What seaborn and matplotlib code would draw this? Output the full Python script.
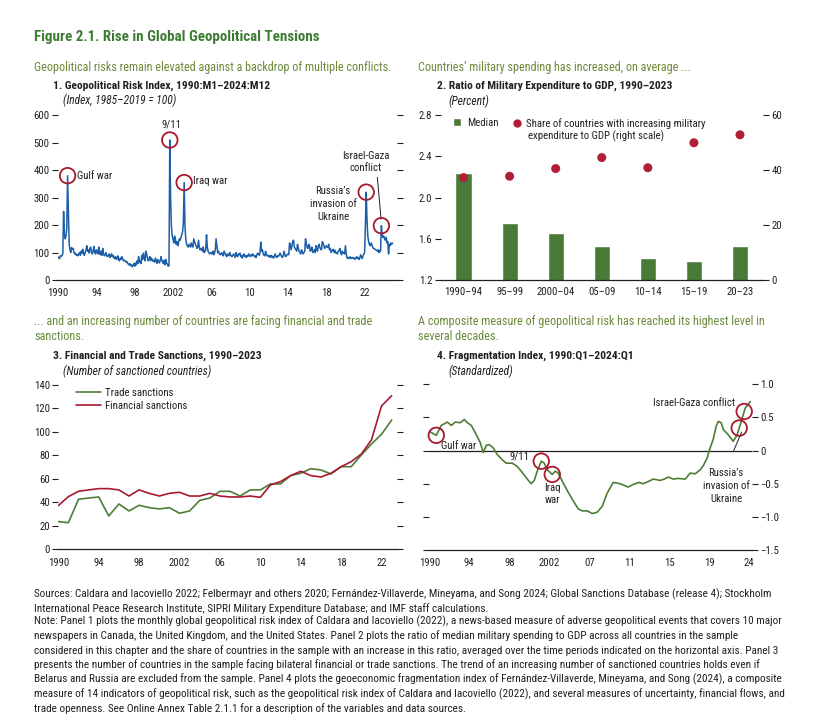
import numpy as np
import pandas as pd
import seaborn as sns
import matplotlib.pyplot as plt
from matplotlib import font_manager
from matplotlib.lines import Line2D
from matplotlib.patches import Patch

# ---- panel 1: geopolitical risk index, monthly 1990:M1-2024:M12
gpr_values = [
    85, 80, 78, 88, 86, 90, 95, 250, 165, 150, 160, 190,      # 1990
    380, 250, 130, 110, 100, 118, 112, 115, 100, 95, 98, 90,  # 1991
    92, 88, 95, 100, 90, 105, 98, 112, 95, 90, 100, 108,      # 1992
    125, 105, 110, 98, 115, 120, 100, 95, 105, 122, 100, 95,  # 1993
    110, 100, 95, 120, 98, 92, 105, 90, 115, 95, 88, 92,      # 1994
    100, 88, 85, 90, 95, 82, 88, 95, 85, 90, 80, 78,          # 1995
    85, 75, 80, 88, 72, 70, 80, 75, 85, 78, 70, 72,           # 1996
    70, 65, 68, 62, 58, 55, 60, 52, 55, 48, 55, 60,           # 1997
    50, 62, 55, 70, 60, 85, 65, 70, 60, 90, 75, 98,           # 1998
    80, 70, 105, 95, 80, 70, 75, 85, 70, 80, 75, 68,          # 1999
    72, 65, 80, 70, 60, 75, 68, 62, 70, 85, 72, 65,           # 2000
    60, 72, 55, 75, 62, 58, 50, 52, 510, 300, 200, 160,       # 2001
    150, 135, 160, 150, 130, 140, 125, 135, 150, 145, 155, 165,  # 2002
    175, 210, 355, 200, 150, 130, 125, 120, 130, 125, 120, 135,  # 2003
    125, 120, 150, 140, 130, 125, 115, 120, 145, 120, 110, 115,  # 2004
    110, 105, 120, 100, 105, 108, 165, 120, 105, 100, 95, 98,    # 2005
    100, 95, 105, 92, 98, 110, 150, 125, 100, 105, 95, 92,       # 2006
    95, 100, 92, 88, 105, 98, 90, 85, 95, 92, 88, 100,        # 2007
    92, 88, 85, 90, 95, 88, 82, 100, 90, 85, 95, 92,          # 2008
    98, 85, 88, 80, 92, 95, 85, 88, 82, 90, 86, 95,           # 2009
    90, 85, 92, 88, 95, 90, 85, 88, 82, 92, 98, 95,           # 2010
    90, 100, 138, 105, 110, 95, 90, 88, 105, 92, 88, 90,      # 2011
    85, 88, 82, 90, 84, 86, 80, 88, 95, 85, 82, 88,           # 2012
    86, 90, 98, 92, 85, 82, 88, 105, 95, 85, 88, 92,          # 2013
    95, 92, 135, 128, 110, 125, 140, 145, 120, 115, 110, 105,  # 2014
    130, 115, 105, 100, 95, 110, 100, 95, 100, 105, 150, 130,  # 2015
    120, 115, 130, 125, 105, 110, 120, 100, 105, 110, 100, 125,  # 2016
    110, 105, 125, 130, 118, 112, 110, 140, 135, 125, 115, 120,  # 2017
    125, 120, 118, 130, 110, 115, 100, 105, 110, 112, 100, 108,  # 2018
    98, 100, 95, 105, 108, 115, 100, 92, 105, 98, 100, 95,    # 2019
    125, 95, 80, 82, 78, 80, 85, 78, 80, 82, 78, 80,          # 2020
    75, 80, 85, 78, 82, 75, 80, 92, 85, 78, 88, 95,           # 2021
    100, 200, 320, 220, 160, 140, 130, 125, 135, 130, 120, 115,  # 2022
    115, 112, 110, 108, 105, 110, 100, 108, 105, 198, 165, 155,  # 2023
    160, 150, 145, 155, 135, 140, 95, 130, 125, 135, 130, 135,   # 2024
]
gpr_events = {'Gulf war': (1991, 1), '9/11': (2001, 9), 'Iraq war': (2003, 3),
              'Russia': (2022, 3), 'Israel-Gaza': (2023, 10)}

# ---- panel 2: military expenditure
periods = ['1990–94', '95–99', '2000–04', '05–09', '10–14', '15–19', '20–23']
median_ratio = [2.24, 1.75, 1.66, 1.53, 1.41, 1.38, 1.53]
share_increasing = [37.3, 37.8, 40.6, 44.6, 40.9, 50.0, 52.9]

# ---- panel 3: sanctions, annual
sanction_years = list(range(1990, 2024))
trade_sanctions = [23.6, 22.7, 42.6, 43.7, 44.6, 28.4, 38.6, 32.7, 37.5, 35.5,
                   34.4, 35.5, 30.7, 32.7, 41.7, 43.7, 49.4, 49.4, 45.4, 50.6,
                   50.6, 55.7, 55.7, 62.8, 64.8, 68.7, 67.6, 64.2, 70.4, 70.4,
                   80.4, 89.7, 98.0, 110.2]
financial_sanctions = [37.2, 44.9, 49.4, 50.6, 51.7, 51.7, 50.6, 45.4, 50.6, 47.7,
                       45.4, 47.7, 48.6, 45.4, 45.4, 47.7, 45.4, 44.6, 44.6, 45.4,
                       44.3, 54.8, 57.7, 62.8, 66.5, 62.8, 61.6, 64.8, 70.4, 74.7,
                       81.2, 93.2, 122.1, 130.9]

# ---- panel 4: fragmentation index (x in axis units, ticks every 4)
frag_x = [1990.0, 1990.7, 1991.2, 1991.8, 1992.2, 1992.6, 1993.1, 1993.5, 1993.8,
          1994.2, 1994.6, 1995.1, 1995.4, 1995.7, 1996.0, 1996.4, 1996.8, 1997.3,
          1997.7, 1998.3, 1998.8, 1999.3, 1999.8, 2000.2, 2000.5, 2000.8, 2001.2,
          2001.5, 2001.8, 2002.3, 2002.6, 2002.9, 2003.4, 2003.9, 2004.4, 2004.9,
          2005.3, 2005.8, 2006.3, 2006.8, 2007.3, 2007.8, 2008.4, 2009.1, 2009.9,
          2010.4, 2011.0, 2011.4, 2012.0, 2012.4, 2013.1, 2013.5, 2013.9, 2014.4,
          2014.9, 2015.6, 2016.1, 2016.6, 2017.1, 2017.4, 2017.8, 2018.0, 2018.4,
          2018.7, 2018.9, 2019.2, 2019.4, 2019.9, 2020.4, 2020.8, 2021.3, 2021.6,
          2022.1]
frag_values = [0.29, 0.23, 0.38, 0.43, 0.38, 0.43, 0.42, 0.47, 0.42, 0.38, 0.27,
               0.12, -0.03, 0.08, 0.09, 0.04, -0.06, -0.14, -0.19, -0.19, -0.24,
               -0.33, -0.43, -0.50, -0.45, -0.31, -0.16, -0.19, -0.29, -0.36,
               -0.31, -0.34, -0.49, -0.63, -0.76, -0.88, -0.91, -0.91, -0.95,
               -0.93, -0.84, -0.64, -0.48, -0.50, -0.55, -0.51, -0.48, -0.50,
               -0.46, -0.43, -0.45, -0.43, -0.40, -0.43, -0.42, -0.43, -0.34,
               -0.35, -0.29, -0.23, -0.11, 0.0, 0.17, 0.37, 0.44, 0.42, 0.32,
               0.24, 0.14, 0.24, 0.49, 0.64, 0.74]
frag_tick_labels = ['1990', '94', '98', '2002', '07', '11', '15', '19', '24']
frag_events = {'Gulf war': 1990.7, '9/11': 2001.2, 'Iraq war': 2002.3,
               'Russia': 2021.0, 'Israel-Gaza': 2021.5}

sources = [
    'Sources: Caldara and Iacoviello 2022; Felbermayr and others 2020; Fernández-Villaverde, Mineyama, and Song 2024; Global Sanctions Database (release 4); Stockholm',
    'International Peace Research Institute, SIPRI Military Expenditure Database; and IMF staff calculations.',
]
notes = [
    'Note: Panel 1 plots the monthly global geopolitical risk index of Caldara and Iacoviello (2022), a news-based measure of adverse geopolitical events that covers 10 major',
    'newspapers in Canada, the United Kingdom, and the United States. Panel 2 plots the ratio of median military spending to GDP across all countries in the sample',
    'considered in this chapter and the share of countries in the sample with an increase in this ratio, averaged over the time periods indicated on the horizontal axis. Panel 3',
    'presents the number of countries in the sample facing bilateral financial or trade sanctions. The trend of an increasing number of sanctioned countries holds even if',
    'Belarus and Russia are excluded from the sample. Panel 4 plots the geoeconomic fragmentation index of Fernández-Villaverde, Mineyama, and Song (2024), a composite',
    'measure of 14 indicators of geopolitical risk, such as the geopolitical risk index of Caldara and Iacoviello (2022), and several measures of uncertainty, financial flows, and',
    'trade openness. See Online Annex Table 2.1.1 for a description of the variables and data sources.',
]

TITLE_GREEN = '#3f7a35'
SUB_GREEN = '#6b8a3a'
BLUE = '#1d5ea8'
RED = '#a8192e'
GREEN = '#4e7d36'
INK = '#231f20'

sns.set_style('white')
installed = {f.name for f in font_manager.fontManager.ttflist}
narrow = 'DejaVu Sans'
for cand in ['Liberation Sans Narrow', 'Roboto Condensed', 'Noto Sans Condensed',
             'Open Sans Condensed', 'DejaVu Sans Condensed', 'Roboto']:
    if cand in installed:
        narrow = cand
        break
plt.rcParams['font.family'] = [narrow, 'DejaVu Sans']
plt.rcParams['text.color'] = INK
plt.rcParams['xtick.color'] = INK
plt.rcParams['ytick.color'] = INK

W, H = 816, 727
fig = plt.figure(figsize=(W / 100, H / 100), dpi=100)
renderer = fig.canvas.get_renderer()


def fit(s, target, **kw):
    # font size that makes string s about target pixels wide
    t = fig.text(0, 0, s, fontsize=10, **kw)
    w = t.get_window_extent(renderer).width
    t.remove()
    return 10 * target / w


FS_TITLE = fit('Figure 2.1. Rise in Global Geopolitical Tensions', 287, fontweight='bold')
FS_SUB = fit('Geopolitical risks remain elevated against a backdrop of multiple conflicts.', 354)
FS_PANEL = fit('1. Geopolitical Risk Index, 1990:M1–2024:M12', 217, fontweight='bold')
FS_UNIT = fit('(Index, 1985–2019 = 100)', 113, style='italic')
FS = fit('Share of countries with increasing military', 178)
FS_FOOT = fit(sources[0], 739)
plt.rcParams['legend.fontsize'] = FS
LS = 1.35


def box(x0, y0, x1, y1):
    # pixel box (left, top, right, bottom) -> figure fraction rect
    return [x0 / W, 1 - y1 / H, (x1 - x0) / W, (y1 - y0) / H]


def ftext(x, y, s, **kw):
    fig.text(x / W, 1 - y / H, s, va='center', **kw)


def style_axis(ax):
    for side in ['left', 'right', 'top']:
        ax.spines[side].set_visible(False)
    ax.spines['bottom'].set_color(INK)
    ax.spines['bottom'].set_linewidth(0.9)
    ax.tick_params(axis='both', which='both', direction='out', length=4,
                   width=0.8, labelsize=FS, pad=2)
    ax.set_xlabel('')
    ax.set_ylabel('')


def year_ticks(ax, start, stop):
    ticks = np.arange(start, stop, 2)
    labels = []
    for y in ticks:
        if (y - 1990) % 4:
            labels.append('')
        elif y in (1990, 2002):
            labels.append(str(y))
        else:
            labels.append(f'{y % 100:02d}')
    ax.set_xticks(ticks, labels)


def circle(ax, x, y):
    ax.scatter([x], [y], s=125, facecolors='none', edgecolors=RED,
               linewidths=1.3, zorder=5, clip_on=False)


# ---------------- headers
ftext(34, 37, 'Figure 2.1. Rise in Global Geopolitical Tensions',
      fontsize=FS_TITLE, fontweight='bold', color=TITLE_GREEN)
ftext(34, 68, 'Geopolitical risks remain elevated against a backdrop of multiple conflicts.',
      fontsize=FS_SUB, color=SUB_GREEN)
ftext(53, 86, '1. Geopolitical Risk Index, 1990:M1–2024:M12', fontsize=FS_PANEL, fontweight='bold')
ftext(63, 100, '(Index, 1985–2019 = 100)', fontsize=FS_UNIT, style='italic')
ftext(418, 68, 'Countries’ military spending has increased, on average ...',
      fontsize=FS_SUB, color=SUB_GREEN)
ftext(437, 86, '2. Ratio of Military Expenditure to GDP, 1990–2023', fontsize=FS_PANEL, fontweight='bold')
ftext(448, 101, '(Percent)', fontsize=FS_UNIT, style='italic')
ftext(34, 322, '... and an increasing number of countries are facing financial and trade',
      fontsize=FS_SUB, color=SUB_GREEN)
ftext(34, 336, 'sanctions.', fontsize=FS_SUB, color=SUB_GREEN)
ftext(53, 356, '3. Financial and Trade Sanctions, 1990–2023', fontsize=FS_PANEL, fontweight='bold')
ftext(63, 371, '(Number of sanctioned countries)', fontsize=FS_UNIT, style='italic')
ftext(418, 322, 'A composite measure of geopolitical risk has reached its highest level in',
      fontsize=FS_SUB, color=SUB_GREEN)
ftext(418, 336, 'several decades.', fontsize=FS_SUB, color=SUB_GREEN)
ftext(437, 356, '4. Fragmentation Index, 1990:Q1–2024:Q1', fontsize=FS_PANEL, fontweight='bold')
ftext(448, 371, '(Standardized)', fontsize=FS_UNIT, style='italic')

# ---------------- panel 1
ax1 = fig.add_axes(box(58, 115.3, 396.7, 280))
gpr_dates = 1990 + np.arange(len(gpr_values)) / 12
sns.lineplot(x=gpr_dates, y=gpr_values, ax=ax1, color=BLUE, linewidth=1.1)
ax1.set_xlim(1990, 2025.35)
ax1.set_ylim(0, 600)
ax1.set_yticks(range(0, 601, 100))
year_ticks(ax1, 1990, 2026)
style_axis(ax1)
ax1.tick_params(axis='y', left=True, right=True, labelleft=True, labelright=False)
for name, (yr, mo) in gpr_events.items():
    i = (yr - 1990) * 12 + mo - 1
    circle(ax1, gpr_dates[i], gpr_values[i])
ax1.text(1992.0, 379, 'Gulf war', fontsize=FS, va='center', ha='left')
ax1.text(2001.8, 565, '9/11', fontsize=FS, va='center', ha='center')
ax1.text(2004.1, 361, 'Iraq war', fontsize=FS, va='center', ha='left')
ax1.text(2022.15, 430, 'Israel-Gaza\nconflict', fontsize=FS, va='center', ha='center',
         linespacing=1.3)
ax1.text(2018.7, 277, 'Russia’s\ninvasion of\nUkraine', fontsize=FS, va='center',
         ha='center', linespacing=LS)
ax1.plot([2023.33, 2023.72], [374, 222], color=INK, linewidth=0.7)

# ---------------- panel 2
ax2 = fig.add_axes(box(440.5, 115.3, 763, 280))
sns.barplot(x=periods, y=median_ratio, ax=ax2, color='#4a7a37', width=0.35,
            saturation=1)
ax2.set_xlim(-0.5, 6.5)
ax2.set_ylim(1.2, 2.8)
ax2.set_yticks([1.2, 1.6, 2.0, 2.4, 2.8], ['1.2', '1.6', '2.0', '2.4', '2.8'])
style_axis(ax2)
ax2.set_xticks(np.arange(-0.5, 7, 1), minor=True)
ax2.tick_params(axis='x', which='major', length=0, pad=5)
ax2.tick_params(axis='y', right=False)
ax2r = ax2.twinx()
sns.scatterplot(x=np.arange(len(share_increasing)), y=share_increasing, ax=ax2r,
                color='#b01f35', s=42, edgecolor='none', legend=False)
ax2r.set_ylim(0, 60)
ax2r.set_yticks([0, 20, 40, 60])
style_axis(ax2r)
ax2r.spines['bottom'].set_visible(False)
ax2r.tick_params(axis='y', left=False, right=True, labelleft=False, labelright=True)
ax2.legend(handles=[Patch(facecolor='#4a7a37', label='Median')], loc='upper left',
           bbox_to_anchor=(0.04, 0.985), frameon=False, handlelength=0.75,
           handleheight=0.75, handletextpad=0.5, borderaxespad=0, borderpad=0)
ax2r.legend(handles=[Line2D([], [], marker='o', linestyle='none', color='#b01f35',
                            markersize=6.0, markeredgewidth=0,
                            label='Share of countries with increasing military')],
            loc='upper left', bbox_to_anchor=(0.225, 0.985), frameon=False,
            handlelength=0.8, handletextpad=0.4, borderaxespad=0, borderpad=0)
ax2r.text(0.271, 0.875, 'expenditure to GDP (right scale)', transform=ax2r.transAxes,
          fontsize=FS, va='center', ha='left')

# ---------------- panel 3
ax3 = fig.add_axes(box(58.3, 385, 396.7, 549.3))
sns.lineplot(x=sanction_years, y=trade_sanctions, ax=ax3, color=GREEN,
             linewidth=1.2, label='Trade sanctions')
sns.lineplot(x=sanction_years, y=financial_sanctions, ax=ax3, color=RED,
             linewidth=1.2, label='Financial sanctions')
ax3.set_xlim(1990, 2023.5)
ax3.set_ylim(0, 140)
ax3.set_yticks(range(0, 141, 20))
year_ticks(ax3, 1990, 2024)
style_axis(ax3)
ax3.tick_params(axis='y', left=True, right=True, labelleft=True, labelright=False)
ax3.legend(loc='upper left', bbox_to_anchor=(0.04, 1.01), frameon=False,
           handlelength=2.3, handletextpad=0.4, labelspacing=0.3, borderaxespad=0)

# ---------------- panel 4
ax4 = fig.add_axes(box(429.3, 384.3, 751.7, 550))
sns.lineplot(x=frag_x, y=frag_values, ax=ax4, color=GREEN, linewidth=1.2)
ax4.axhline(0, color=INK, linewidth=0.9, zorder=1)
ax4.set_xlim(1990, 2022.25)
ax4.set_ylim(-1.5, 1.0)
ax4.set_yticks([1.0, 0.5, 0, -0.5, -1.0, -1.5],
               ['1.0', '0.5', '0', '−0.5', '−1.0', '−1.5'])
ax4.set_xticks(np.arange(1990, 2023, 4), frag_tick_labels)
style_axis(ax4)
ax4.tick_params(axis='y', left=True, right=True, labelleft=False, labelright=True)
for name, x in frag_events.items():
    circle(ax4, x, np.interp(x, frag_x, frag_values))
ax4.text(1991.2, 0.075, 'Gulf war', fontsize=FS, va='center', ha='left')
ax4.text(1999.0, -0.09, '9/11', fontsize=FS, va='center', ha='center')
ax4.text(2002.3, -0.66, 'Iraq\nwar', fontsize=FS, va='center', ha='center',
         linespacing=1.25)
ax4.text(2020.6, 0.72, 'Israel-Gaza conflict', fontsize=FS, va='center', ha='right')
ax4.text(2019.7, -0.53, 'Russia’s\ninvasion of\nUkraine', fontsize=FS, va='center',
         ha='center', linespacing=LS)
ax4.plot([2020.4, 2021.24], [-0.02, 0.28], color=INK, linewidth=0.7)

# ---------------- footer
for k, line in enumerate(sources):
    ftext(34, 594 + 14.5 * k, line, fontsize=FS_FOOT)
for k, line in enumerate(notes):
    ftext(34, 621.5 + 14.5 * k, line, fontsize=FS_FOOT)

fig.savefig('out.png', dpi=100)
